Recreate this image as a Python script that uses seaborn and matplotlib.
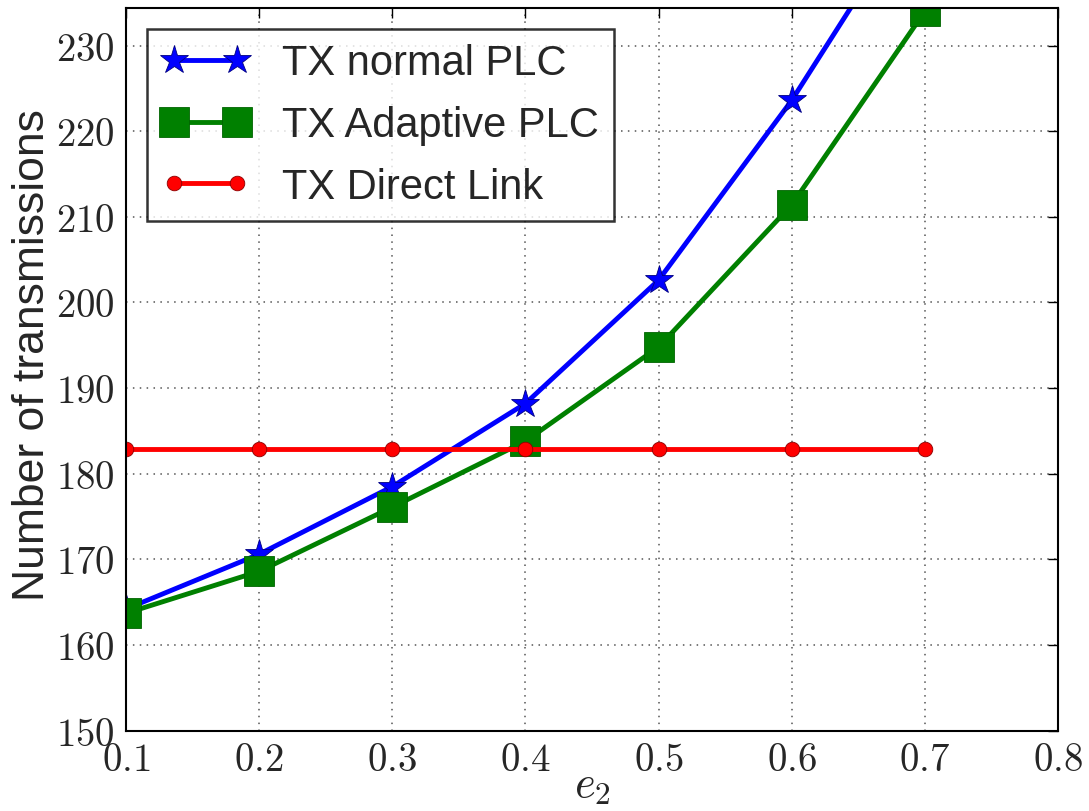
import matplotlib
matplotlib.use("Agg")
import matplotlib.pyplot as plt
from matplotlib.ticker import FuncFormatter
import seaborn as sns
import pandas as pd

# Erasure probability on the second link
e2 = [0.1, 0.2, 0.3, 0.4, 0.5, 0.6, 0.7]

# Number of transmissions per scheme
tx_normal_plc = [164.2, 170.6, 178.5, 188.2, 202.6, 223.6, 248.0]
tx_adaptive_plc = [163.7, 168.6, 176.1, 183.8, 194.8, 211.4, 234.0]
tx_direct_link = [182.9, 182.9, 182.9, 182.9, 182.9, 182.9, 182.9]

series_labels = ["TX normal PLC", "TX Adaptive PLC", "TX Direct Link"]
x_ticks = [0.1, 0.2, 0.3, 0.4, 0.5, 0.6, 0.7, 0.8]
y_ticks = [150, 160, 170, 180, 190, 200, 210, 220, 230]

sns.set_style("white")
plt.rcParams["mathtext.fontset"] = "cm"
plt.rcParams["font.family"] = ["Liberation Sans", "DejaVu Sans"]

fig = plt.figure(figsize=(10.89, 8.12), dpi=100)
ax = fig.add_axes([0.1157, 0.099, 0.8558, 0.890])

styles = [
    dict(color="blue", marker="*", markersize=21, edge="navy"),
    dict(color="green", marker="s", markersize=22, edge="darkgreen"),
    dict(color="red", marker="o", markersize=10.5, edge="darkred"),
]

for values, label, st in zip([tx_normal_plc, tx_adaptive_plc, tx_direct_link],
                             series_labels, styles):
    df = pd.DataFrame({"e2": e2, "tx": values})
    sns.lineplot(data=df, x="e2", y="tx", ax=ax, label=label,
                 color=st["color"], marker=st["marker"],
                 markersize=st["markersize"], linewidth=3.5,
                 markeredgecolor=st["edge"], markeredgewidth=0.6,
                 markerfacecolor=st["color"])

ax.set_xlim(0.1, 0.8)
ax.set_ylim(150, 234.4)
ax.set_xticks(x_ticks)
ax.set_yticks(y_ticks)
ax.xaxis.set_major_formatter(FuncFormatter(lambda v, p: f"${v:.1f}$"))
ax.yaxis.set_major_formatter(FuncFormatter(lambda v, p: f"${v:.0f}$"))
ax.tick_params(axis="both", which="major", direction="in", length=7, width=1,
               top=True, right=True, labelsize=28, pad=8, color="black")

ax.grid(True, linestyle=(0, (1, 3.5)), color="#555555", linewidth=1.1)
for sp in ax.spines.values():
    sp.set_color("black")
    sp.set_linewidth(1.5)

ax.set_xlabel("$e_2$", fontsize=32, labelpad=-9)
ax.set_ylabel("Number of transmissions", fontsize=32)
ax.yaxis.set_label_coords(-0.078, 0.521)

leg = ax.legend(loc="upper left", bbox_to_anchor=(0.0225, 0.971),
                borderaxespad=0, numpoints=2, fontsize=30, frameon=True,
                fancybox=False, edgecolor="black", handlelength=2.1,
                handletextpad=0.8, labelspacing=0.52, borderpad=0.35)
leg.get_frame().set_linewidth(1.8)

fig.savefig("out.png", dpi=100)
